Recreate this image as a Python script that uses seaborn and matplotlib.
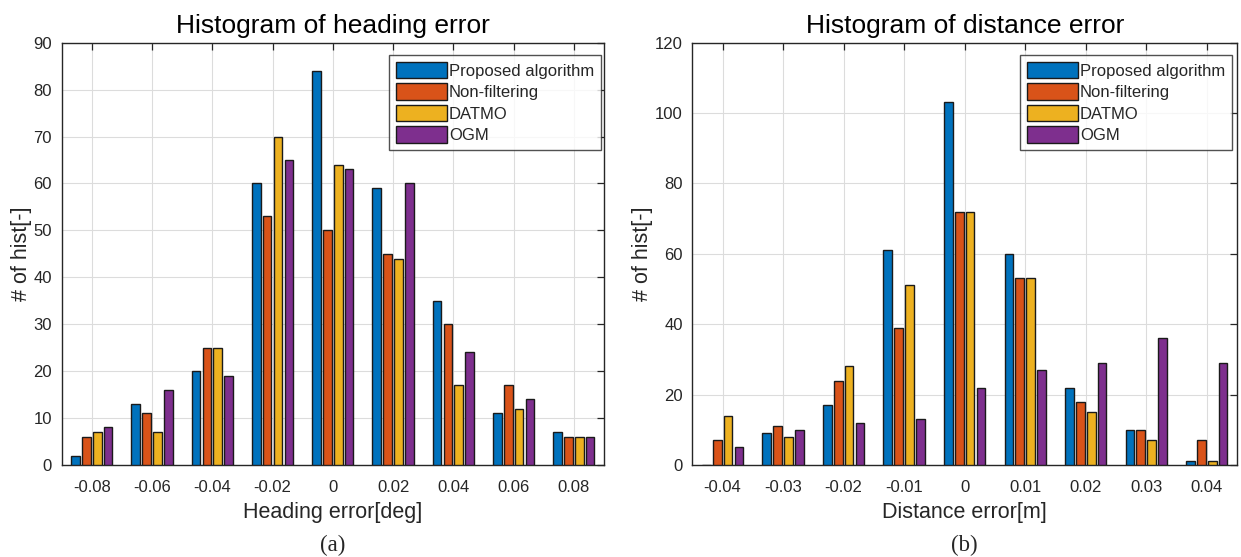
import numpy as np
import pandas as pd
import matplotlib
matplotlib.use("Agg")
import matplotlib.pyplot as plt
import seaborn as sns
from matplotlib.patches import Patch

series = ["Proposed algorithm", "Non-filtering", "DATMO", "OGM"]
colors = ["#0072BD", "#D95319", "#EDB120", "#7E2F8E"]

heading_bins = ["-0.08", "-0.06", "-0.04", "-0.02", "0", "0.02", "0.04", "0.06", "0.08"]
heading_proposed = [2, 13, 20, 60, 84, 59, 35, 11, 7]
heading_nonfilt = [6, 11, 25, 53, 50, 45, 30, 17, 6]
heading_datmo = [7, 7, 25, 70, 64, 44, 17, 12, 6]
heading_ogm = [8, 16, 19, 65, 63, 60, 24, 14, 6]

dist_bins = ["-0.04", "-0.03", "-0.02", "-0.01", "0", "0.01", "0.02", "0.03", "0.04"]
dist_proposed = [0, 9, 17, 61, 103, 60, 22, 10, 1]
dist_nonfilt = [7, 11, 24, 39, 72, 53, 18, 10, 7]
dist_datmo = [14, 8, 28, 51, 72, 53, 15, 7, 1]
dist_ogm = [5, 10, 12, 13, 22, 27, 29, 36, 29]


def long_df(bins, vals):
    rows = []
    for s, v in zip(series, vals):
        for b, y in zip(bins, v):
            rows.append({"bin": b, "method": s, "count": y})
    return pd.DataFrame(rows)


sns.set_theme(style="white")
plt.rcParams["font.family"] = ["Liberation Sans", "DejaVu Sans"]

fig = plt.figure(figsize=(12.41, 5.57), dpi=100)
ax1 = fig.add_axes([0.0497, 0.1652, 0.4370, 0.7582])
ax2 = fig.add_axes([0.5579, 0.1652, 0.4389, 0.7582])

specs = [
    (ax1, heading_bins, [heading_proposed, heading_nonfilt, heading_datmo, heading_ogm],
     "Histogram of heading error", "Heading error[deg]", 90, 10, "(a)", 0.4843),
    (ax2, dist_bins, [dist_proposed, dist_nonfilt, dist_datmo, dist_ogm],
     "Histogram of distance error", "Distance error[m]", 120, 20, "(b)", 0.9927),
]

for ax, bins, vals, title, xlabel, ymax, ystep, tag, legx in specs:
    df = long_df(bins, vals)
    sns.barplot(data=df, x="bin", y="count", hue="method", order=bins,
                hue_order=series, palette=colors, width=0.72, gap=0.2,
                edgecolor="#1a1a1a", linewidth=1.0, saturation=1, ax=ax,
                legend=False, zorder=3)
    ax.set_xlim(-0.5, 8.5)
    ax.set_ylim(0, ymax)
    ax.set_yticks(np.arange(0, ymax + 1, ystep))
    ax.set_axisbelow(True)
    ax.grid(True, color="#dcdcdc", linewidth=0.8, zorder=0)
    for sp in ax.spines.values():
        sp.set_color("#262626")
        sp.set_linewidth(1.0)
        sp.set_visible(True)
    ax.tick_params(axis="both", direction="in", length=5, width=0.9,
                   top=True, right=True, labelsize=12, colors="#262626")
    ax.tick_params(axis="x", pad=11)
    ax.tick_params(axis="y", pad=7)
    ax.set_title(title, fontsize=19, color="black", pad=7)
    ax.set_xlabel(xlabel, fontsize=15.5, color="#262626", labelpad=5)
    ax.set_ylabel("# of hist[-]", fontsize=15.5, color="#262626", labelpad=1)
    handles = [Patch(facecolor=c, edgecolor="#1a1a1a", linewidth=1.0) for c in colors]
    leg = ax.legend(handles, series, loc="upper right",
                    bbox_to_anchor=(legx, 0.9013), bbox_transform=fig.transFigure,
                    fontsize=12, frameon=True, fancybox=False, edgecolor="#262626",
                    handlelength=3.05, handleheight=1.15, handletextpad=0.15,
                    labelspacing=0.28, borderpad=0.4, borderaxespad=0)
    leg.get_frame().set_linewidth(1.0)
    pos = ax.get_position()
    fig.text(pos.x0 + pos.width / 2, 0.021, tag, ha="center", va="center",
             fontsize=16.5, family=["Liberation Serif", "DejaVu Serif"])

fig.savefig("out.png", dpi=100)
